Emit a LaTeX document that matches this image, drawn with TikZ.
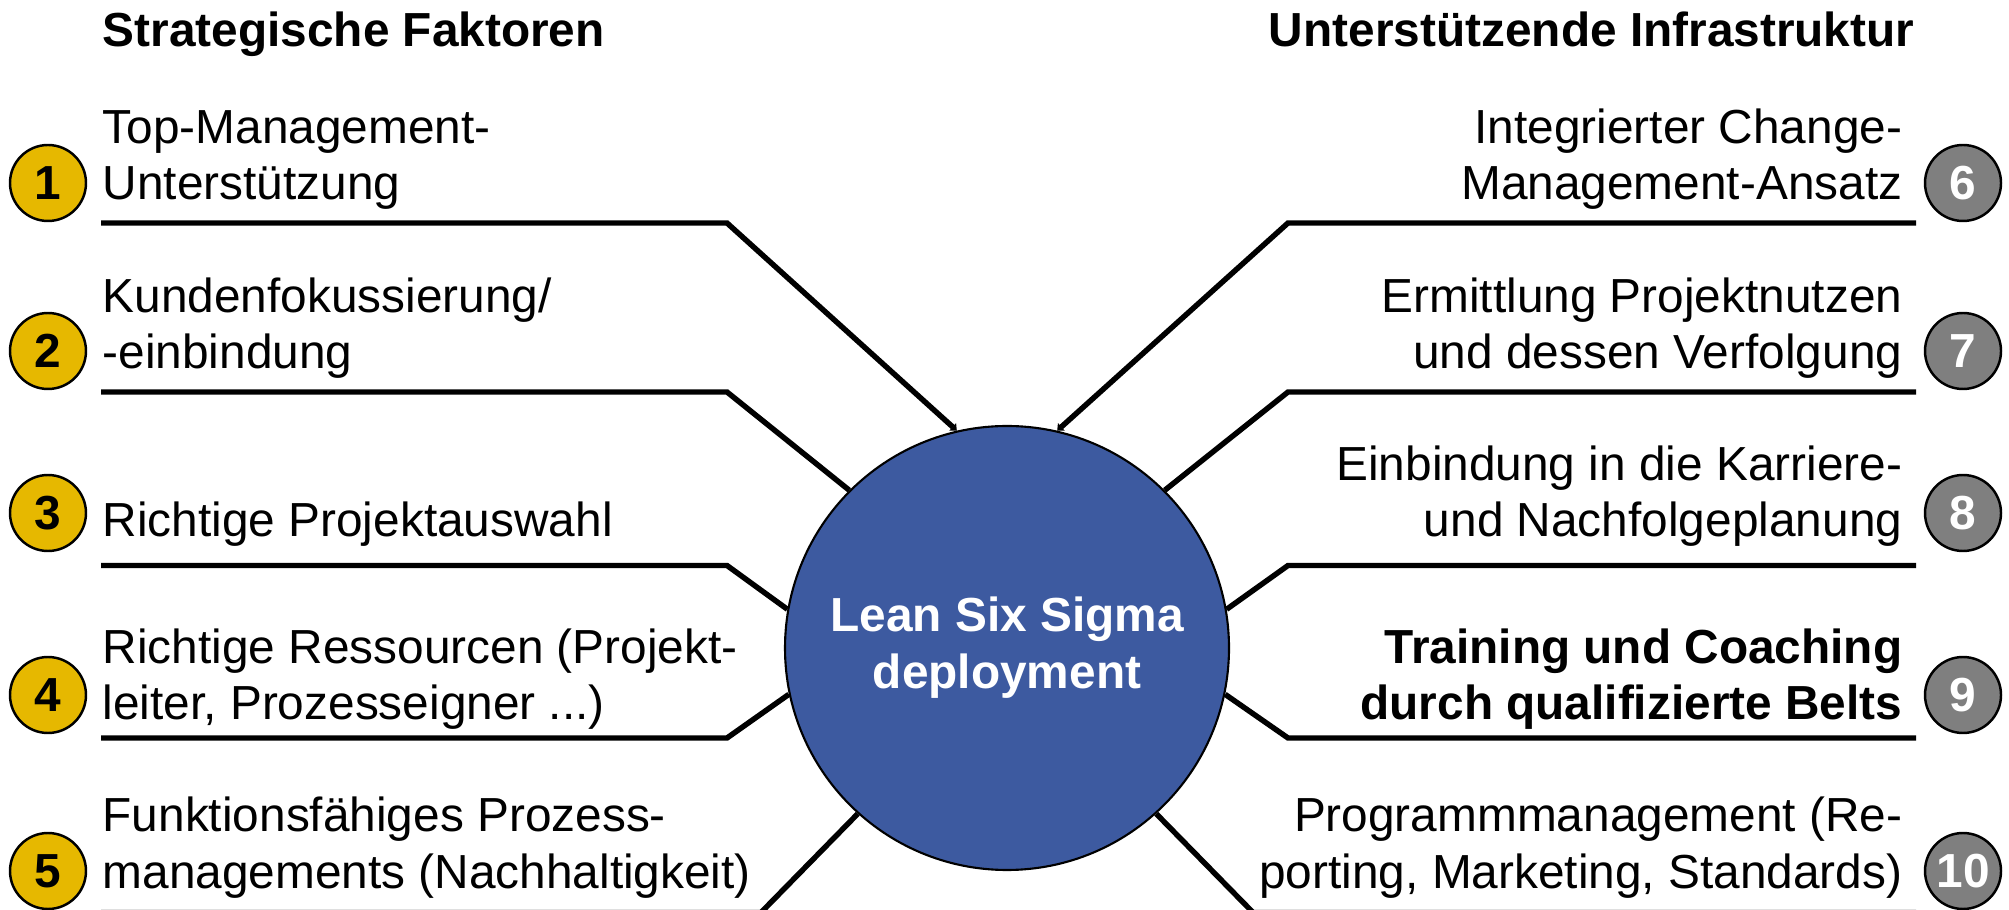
\documentclass[tikz,border=0pt]{standalone}
\usepackage{fontspec}
\setmainfont{Liberation Sans}
\usetikzlibrary{arrows.meta}
\definecolor{lssblue}{HTML}{3D5AA0}
\definecolor{lssyellow}{HTML}{E6B800}
\definecolor{lssgray}{HTML}{7F7F7F}
\newcommand{\lssfont}{\fontsize{13.6}{16.2}\selectfont}

\begin{document}
\begin{tikzpicture}[
    head/.style={inner sep=0pt, font=\lssfont\bfseries},
    lbl/.style={inner sep=0pt, align=left, anchor=base west, font=\lssfont},
    lblr/.style={inner sep=0pt, align=right, anchor=base east, font=\lssfont},
    num/.style={circle, draw=black, line width=0.7pt, minimum size=0.76cm,
                inner sep=0pt, font=\lssfont\bfseries},
    numl/.style={num, fill=lssyellow},
    numr/.style={num, fill=lssgray, text=white},
    hub/.style={circle, draw=black, line width=0.6pt, fill=lssblue,
                minimum size=4.44cm, inner sep=0pt, text=white,
                align=center, font=\lssfont\bfseries},
    spoke/.style={line width=1.55pt},
    tip/.style={spoke, -{Triangle[length=1.6pt, width=2.8pt]}}
  ]
    \useasboundingbox (0,0) rectangle (20.09,-9.10);

    \node[hub] (hub) at (10.07,-6.48) {Lean Six Sigma\\deployment};

    \node[head, anchor=base west] (hl) at (1.02,-0.47) {Strategische Faktoren};
    \node[head, anchor=base east] (hr) at (19.15,-0.47) {Unterstützende Infrastruktur};

    \node[numl] (n1) at (0.48,-1.83) {1};
    \node[numl] (n2) at (0.48,-3.51) {2};
    \node[numl] (n3) at (0.48,-5.13) {3};
    \node[numl] (n4) at (0.48,-6.95) {4};
    \node[numl] (n5) at (0.48,-8.71) {5};
    \node[numr] (n6) at (19.63,-1.83) {6};
    \node[numr] (n7) at (19.63,-3.51) {7};
    \node[numr] (n8) at (19.63,-5.13) {8};
    \node[numr] (n9) at (19.63,-6.95) {9};
    \node[numr] (n10) at (19.63,-8.71) {10};

    \node[lbl] (t1) at (1.02,-2.00) {Top-Management-\\Unterstützung};
    \node[lbl] (t2) at (1.02,-3.69) {Kundenfokussierung/\\-einbindung};
    \node[lbl] (t3) at (1.02,-5.37) {Richtige Projektauswahl};
    \node[lbl] (t4) at (1.02,-7.20) {Richtige Ressourcen (Projekt-\\leiter, Prozesseigner ...)};
    \node[lbl] (t5) at (1.02,-8.88) {Funktionsfähiges Prozess-\\managements (Nachhaltigkeit)};
    \node[lblr] (t6) at (19.03,-2.00) {Integrierter Change-\\Management-Ansatz};
    \node[lblr] (t7) at (19.03,-3.69) {Ermittlung Projektnutzen\\und dessen Verfolgung};
    \node[lblr] (t8) at (19.03,-5.37) {Einbindung in die Karriere-\\und Nachfolgeplanung};
    \node[lblr, font=\lssfont\bfseries] (t9) at (19.03,-7.20) {Training und Coaching\\durch qualifizierte Belts};
    \node[lblr] (t10) at (19.03,-8.88) {Programmmanagement (Re-\\porting, Marketing, Standards)};

    \coordinate (a1) at (1.01,-2.23);   \coordinate (k1) at (7.27,-2.23);
    \coordinate (a2) at (1.01,-3.92);   \coordinate (k2) at (7.27,-3.92);
    \coordinate (a3) at (1.01,-5.655);  \coordinate (k3) at (7.27,-5.655);
    \coordinate (a4) at (1.01,-7.38);   \coordinate (k4) at (7.27,-7.38);
    \coordinate (a5) at (1.01,-9.125);  \coordinate (k5) at (7.61,-9.125);
    \coordinate (a6) at (19.16,-2.23);  \coordinate (k6) at (12.88,-2.23);
    \coordinate (a7) at (19.16,-3.92);  \coordinate (k7) at (12.88,-3.92);
    \coordinate (a8) at (19.16,-5.655); \coordinate (k8) at (12.88,-5.655);
    \coordinate (a9) at (19.16,-7.38);  \coordinate (k9) at (12.88,-7.38);
    \coordinate (a10) at (19.16,-9.125); \coordinate (k10) at (12.53,-9.125);

    \draw[tip] (a1) -- (k1) -- (hub.103);
    \draw[spoke] (a2) -- (k2) -- (hub.135);
    \draw[spoke] (a3) -- (k3) -- (hub.170);
    \draw[spoke] (a4) -- (k4) -- (hub.192);
    \draw[spoke] (a5) -- (k5) -- (hub.228);
    \draw[tip] (a6) -- (k6) -- (hub.77);
    \draw[spoke] (a7) -- (k7) -- (hub.45);
    \draw[spoke] (a8) -- (k8) -- (hub.10);
    \draw[spoke] (a9) -- (k9) -- (hub.348);
    \draw[spoke] (a10) -- (k10) -- (hub.312);
  \end{tikzpicture}
\end{document}
